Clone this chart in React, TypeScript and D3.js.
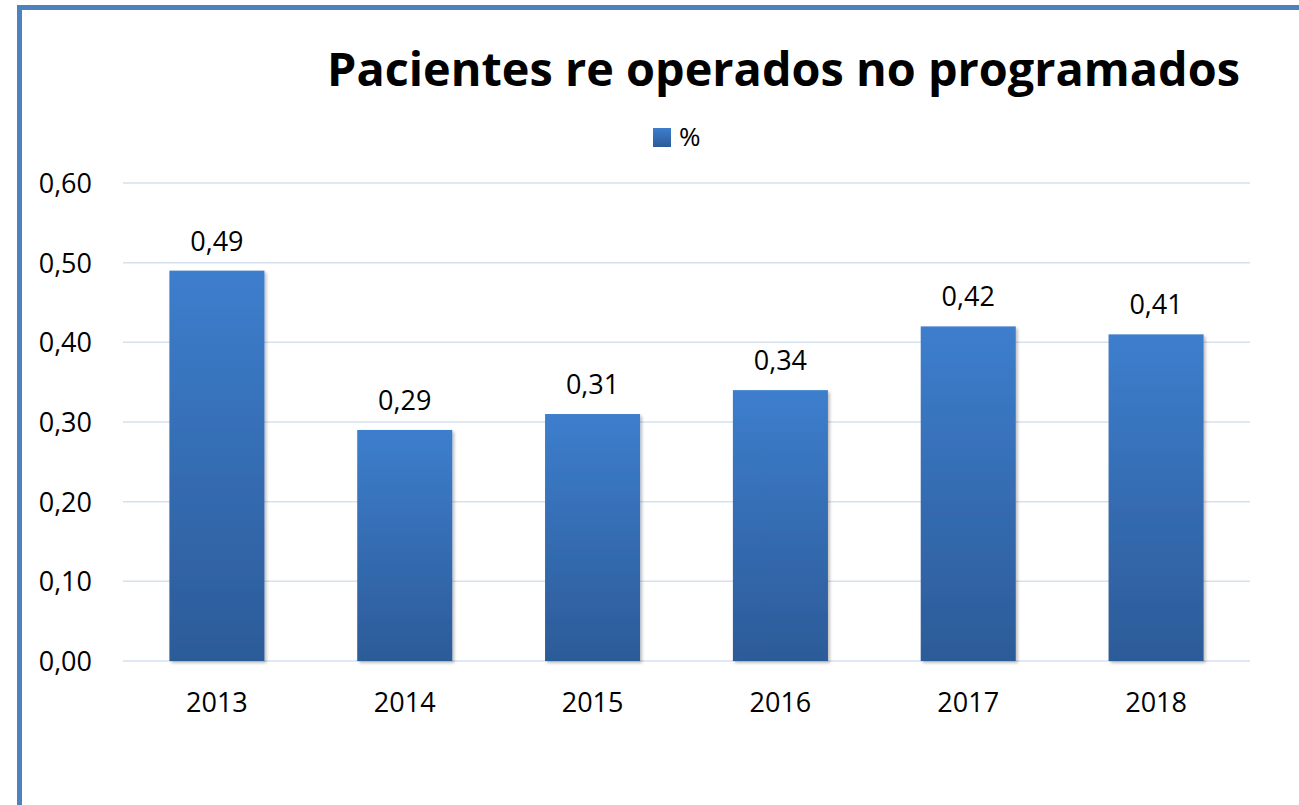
import React, { useEffect, useRef } from "react";
import * as d3 from "d3";

const years = ["2013", "2014", "2015", "2016", "2017", "2018"];
const values = [0.49, 0.29, 0.31, 0.34, 0.42, 0.41];
const yTicks = [0, 0.1, 0.2, 0.3, 0.4, 0.5, 0.6];
const seriesName = "%";
const title = "Pacientes re operados no programados";

const fmt = (v: number) => v.toFixed(2).replace(".", ",");

const App = () => {
  const ref = useRef<SVGSVGElement>(null);

  useEffect(() => {
    const svg = d3.select(ref.current);
    svg.selectAll("*").remove();
    const W = 1299, H = 805;
    svg.attr("width", W).attr("height", H);
    const font = "'Open Sans', 'Noto Sans', sans-serif";

    const defs = svg.append("defs");
    const grad = defs.append("linearGradient").attr("id", "barGrad").attr("x1", 0).attr("y1", 0).attr("x2", 0).attr("y2", 1);
    grad.append("stop").attr("offset", "0%").attr("stop-color", "#3d7ecd");
    grad.append("stop").attr("offset", "100%").attr("stop-color", "#2c5b98");
    const shadow = defs.append("filter").attr("id", "shadow").attr("x", "-10%").attr("y", "-10%").attr("width", "130%").attr("height", "130%");
    shadow.append("feDropShadow").attr("dx", 2).attr("dy", 2).attr("stdDeviation", 1.5).attr("flood-color", "#000").attr("flood-opacity", 0.25);

    svg.append("rect").attr("width", W).attr("height", H).attr("fill", "#fff");
    // frame
    svg.append("rect").attr("x", 19.5).attr("y", 7.5).attr("width", W + 20).attr("height", H + 20)
      .attr("fill", "none").attr("stroke", "#4f81bd").attr("stroke-width", 5);

    const x = d3.scaleBand().domain(years).range([123, 1250]).paddingInner(0.494).paddingOuter(0.247);
    const y = d3.scaleLinear().domain([0, 0.6]).range([661, 183]);

    // gridlines
    svg.append("g").selectAll("line").data(yTicks).enter().append("line")
      .attr("x1", 123).attr("x2", 1250)
      .attr("y1", (d) => y(d)).attr("y2", (d) => y(d))
      .attr("stroke", "#d6e1ef").attr("stroke-width", 1.5);

    // y labels
    svg.append("g").selectAll("text").data(yTicks).enter().append("text")
      .attr("x", 92).attr("y", (d) => y(d) + 10)
      .attr("text-anchor", "end").attr("font-family", font).attr("font-size", 27).attr("fill", "#000")
      .text((d) => fmt(d));

    // bars
    svg.append("g").selectAll("rect").data(values).enter().append("rect")
      .attr("x", (d, i) => x(years[i])!).attr("width", x.bandwidth())
      .attr("y", (d) => y(d)).attr("height", (d) => y(0) - y(d))
      .attr("fill", "url(#barGrad)").attr("filter", "url(#shadow)");

    // data labels
    svg.append("g").selectAll("text").data(values).enter().append("text")
      .attr("x", (d, i) => x(years[i])! + x.bandwidth() / 2).attr("y", (d) => y(d) - 20)
      .attr("text-anchor", "middle").attr("font-family", font).attr("font-size", 27).attr("fill", "#000")
      .text((d) => fmt(d));

    // x labels
    svg.append("g").selectAll("text").data(years).enter().append("text")
      .attr("x", (d) => x(d)! + x.bandwidth() / 2).attr("y", 712)
      .attr("text-anchor", "middle").attr("font-family", font).attr("font-size", 27).attr("fill", "#000")
      .text((d) => d);

    // legend
    svg.append("rect").attr("x", 653).attr("y", 128).attr("width", 18).attr("height", 19).attr("fill", "url(#barGrad)");
    svg.append("text").attr("x", 679).attr("y", 146).attr("font-family", font).attr("font-size", 26).attr("fill", "#000").text(seriesName);

    // title
    svg.append("text").attr("x", 327).attr("y", 86).attr("font-family", font).attr("font-weight", "bold")
      .attr("font-size", 46).attr("fill", "#000").attr("textLength", 913).attr("lengthAdjust", "spacingAndGlyphs")
      .text(title);
  }, []);

  return <svg ref={ref} style={{ position: "absolute", left: 0, top: 0, display: "block" }}></svg>;
};

export default App;
